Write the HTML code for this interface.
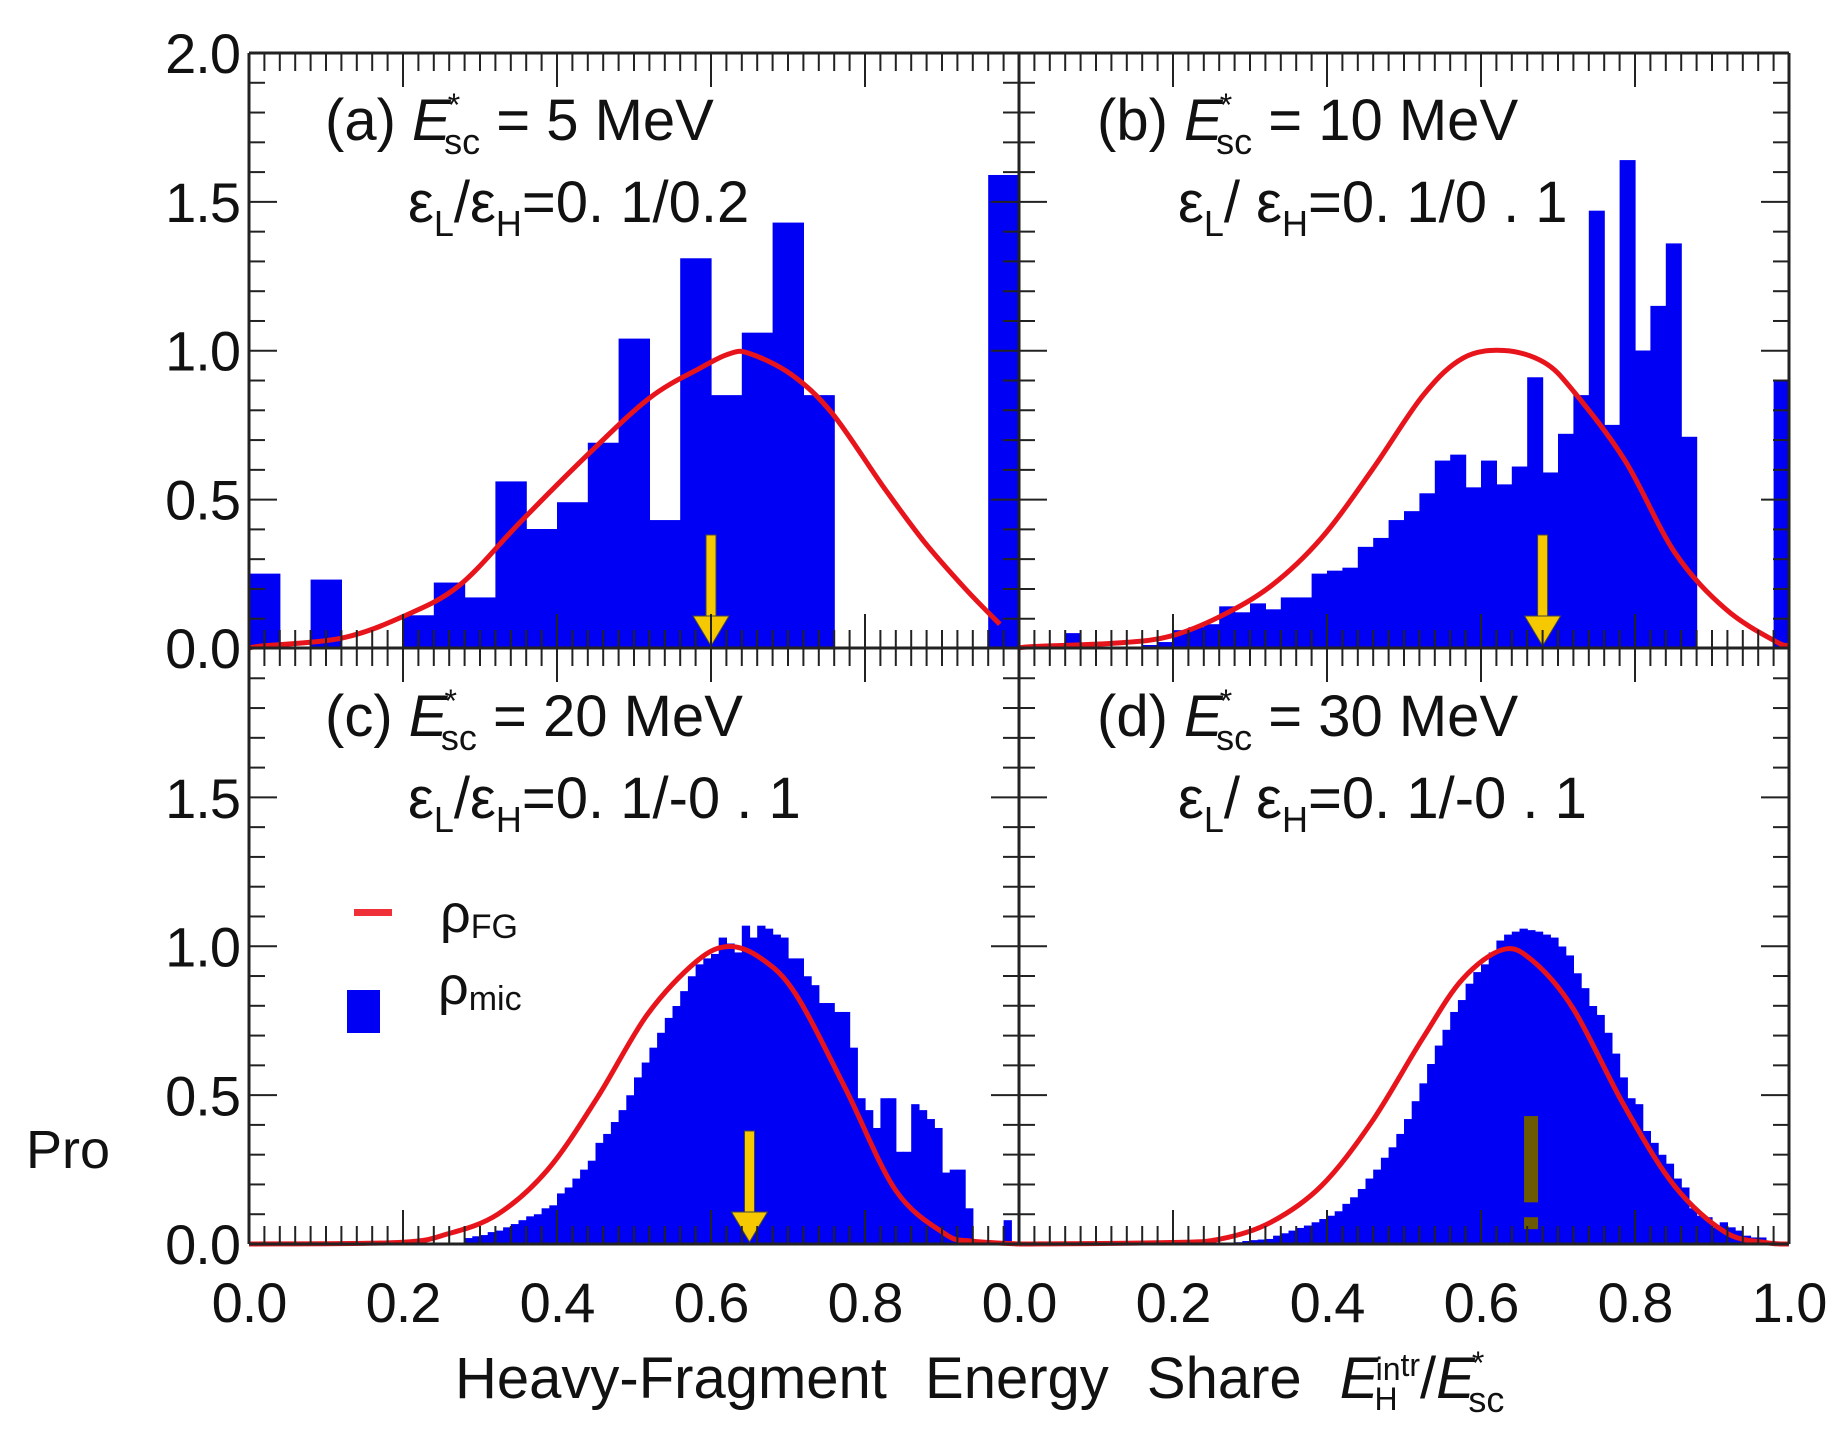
<!DOCTYPE html>
<html><head><meta charset="utf-8"><style>
body{margin:0;background:#fff;}
svg{display:block;font-family:"Liberation Sans",sans-serif;}
</style></head><body>
<svg id="chart" width="1848" height="1430" viewBox="0 0 1848 1430" xmlns="http://www.w3.org/2000/svg" style="position:absolute;left:0;top:0">
<g id="bars"></g><g id="curves"></g><g id="axes"></g><g id="labels"></g>
</svg>
<script>
// ---- data ----
const binsA = [0.25,0,0.23,0,0,0.11,0.22,0.17,0.56,0.40,0.49,0.69,1.04,0.43,1.31,0.85,1.06,1.43,0.85,0,0,0,0,0,1.59];
const binsB = [0,0,0,0.05,0,0,0,0,0.01,0.02,0.06,0.07,0.08,0.14,0.12,0.15,0.13,0.17,0.17,0.25,0.26,0.27,0.34,0.37,0.43,0.46,0.52,0.63,0.65,0.54,0.63,0.55,0.61,0.91,0.59,0.72,0.85,1.47,0.75,1.64,1.0,1.15,1.36,0.71,0,0,0,0,0,0.90];
const binsC = [0,0,0,0,0,0,0,0,0,0,0,0,0,0,0,0,0,0,0,0,0,0,0,0,0,0,0,0,
 0.02,0.026,0.03,0.04,0.045,0.056,0.067,0.08,0.093,0.10,0.12,0.13,
 0.17,0.19,0.22,0.25,0.28,0.34,0.37,0.41,0.45,0.50,0.56,0.61,0.66,0.71,0.76,0.80,0.85,0.90,0.94,0.96,
 0.975,1.03,1.01,0.98,1.07,1.03,1.07,1.06,1.04,1.03,0.96,0.96,0.90,0.87,0.81,0.81,0.78,0.78,0.66,0.49,
 0.45,0.39,0.49,0.49,0.31,0.31,0.47,0.45,0.42,0.39,0.24,0.25,0.25,0.12,0,0,0,0,0.08,0];
const binsD = [0,0,0,0,0,0,0,0,0,0,0,0,0,0,0,0,0,0,0,0,0,0,0,0,0,0,0,0,
 0.006,0.01,0.013,0.015,0.017,0.028,0.036,0.045,0.054,0.062,0.073,0.084,
 0.095,0.11,0.135,0.157,0.185,0.22,0.25,0.29,0.325,0.37,0.42,0.48,0.54,0.605,0.667,0.72,0.78,0.82,0.875,0.914,
 0.94,0.98,1.02,1.04,1.05,1.06,1.055,1.05,1.04,1.03,1.00,0.97,0.91,0.86,0.80,0.77,0.71,0.64,0.56,0.49,
 0.47,0.38,0.34,0.30,0.27,0.22,0.19,0.12,0.095,0.09,0.056,0.073,0.056,0.045,0.028,0.022,0.022,0.006,0,0];
const curveAx = [0,0.018,0.12,0.2,0.273,0.353,0.44,0.52,0.585,0.625,0.65,0.704,0.757,0.823,0.876,0.93,0.975];
const curveAy = [0,0.007,0.033,0.106,0.21,0.425,0.65,0.84,0.94,0.99,0.99,0.92,0.79,0.545,0.36,0.2,0.08];
const curveBx = [0,0.02,0.13,0.197,0.262,0.328,0.393,0.459,0.525,0.577,0.63,0.682,0.721,0.787,0.852,0.918,0.984,1.0];
const curveBy = [0,0.005,0.017,0.04,0.107,0.21,0.37,0.60,0.85,0.975,1.0,0.96,0.86,0.63,0.32,0.13,0.02,0.01];
const curveCx = [0,0.194,0.258,0.323,0.388,0.452,0.517,0.581,0.623,0.665,0.71,0.775,0.84,0.904,0.937,1.0];
const curveCy = [0,0.005,0.034,0.10,0.25,0.49,0.77,0.95,1.0,0.96,0.84,0.52,0.18,0.034,0.01,0];
const curveDx = [0,0.196,0.262,0.327,0.393,0.458,0.524,0.576,0.629,0.668,0.72,0.786,0.851,0.917,0.969,1.0];
const curveDy = [0,0.005,0.017,0.073,0.196,0.41,0.69,0.89,0.99,0.95,0.79,0.465,0.196,0.04,0.005,0];
const arrowX = [0.60,0.68,0.65,0.665];
const yTicks = [0,0.5,1.0,1.5,2.0];
const xTicks = [0,0.2,0.4,0.6,0.8,1.0];

// ---- layout ----
const NS="http://www.w3.org/2000/svg";
const L=249,M=1019,R=1789,T=53,MID=648,B=1244,W=770,U=297.5;
const panels=[
 {x0:L,y0:MID,bins:binsA,cx:curveAx,cy:curveAy,name:'a'},
 {x0:M,y0:MID,bins:binsB,cx:curveBx,cy:curveBy,name:'b'},
 {x0:L,y0:B,bins:binsC,cx:curveCx,cy:curveCy,name:'c'},
 {x0:M,y0:B,bins:binsD,cx:curveDx,cy:curveDy,name:'d'}];
function sx(p,v){return p.x0+v*W;}
function sy(p,v){return p.y0-v*U;}
function mk(tag,attrs,parent){const e=document.createElementNS(NS,tag);for(const k in attrs)e.setAttribute(k,attrs[k]);parent.appendChild(e);return e;}
const gB=document.getElementById('bars'),gC=document.getElementById('curves'),gA=document.getElementById('axes'),gL=document.getElementById('labels');

function smoothPath(pts){
 let d='M'+pts[0][0].toFixed(1)+','+pts[0][1].toFixed(1);
 for(let i=0;i<pts.length-1;i++){
  const p0=pts[Math.max(0,i-1)],p1=pts[i],p2=pts[i+1],p3=pts[Math.min(pts.length-1,i+2)];
  const c1=[p1[0]+(p2[0]-p0[0])/6,p1[1]+(p2[1]-p0[1])/6];
  const c2=[p2[0]-(p3[0]-p1[0])/6,p2[1]-(p3[1]-p1[1])/6];
  d+='C'+c1[0].toFixed(1)+','+c1[1].toFixed(1)+' '+c2[0].toFixed(1)+','+c2[1].toFixed(1)+' '+p2[0].toFixed(1)+','+p2[1].toFixed(1);
 }
 return d;
}

panels.forEach((p,pi)=>{
 const n=p.bins.length,bw=1/n;
 p.bins.forEach((v,i)=>{
  if(v<=0)return;
  const r=mk('rect',{x:sx(p,i*bw),y:sy(p,v),width:bw*W+0.6,height:v*U,fill:'#0000f5'},gB);
  
  
 });
 const pts=p.cx.map((x,i)=>[sx(p,x),sy(p,p.cy[i])]);
 const c=mk('path',{d:smoothPath(pts),fill:'none',stroke:'#e8141c','stroke-width':5,'stroke-linejoin':'round'},gC);
 
 
 const ax=sx(p,arrowX[pi]);
 if(pi<3){
  const a=mk('g',{},gC);
  
  
  mk('rect',{x:ax-5,y:sy(p,0.38),width:10,height:0.38*U-28,fill:'#f5c800',stroke:'#444','stroke-width':1},a);
  mk('polygon',{points:(ax-18)+','+(p.y0-32)+' '+(ax+18)+','+(p.y0-32)+' '+ax+','+(p.y0-2),fill:'#f5c800',stroke:'#444','stroke-width':1},a);
 } else {
  const a=mk('g',{},gC);
  
  
  mk('rect',{x:ax-7,y:sy(p,0.43),width:14,height:0.29*U,fill:'#6b5a00'},a);
  mk('rect',{x:ax-7,y:sy(p,0.09),width:14,height:0.04*U,fill:'#6b5a00'},a);
 }
});

function line(x1,y1,x2,y2,w){mk('line',{x1:x1,y1:y1,x2:x2,y2:y2,stroke:'#222','stroke-width':w},gA);}
[[L,T,R,T],[L,MID,R,MID],[L,B,R,B],[L,T,L,B],[M,T,M,B],[R,T,R,B]].forEach(s=>line(s[0],s[1],s[2],s[3],3));
for(let k=0;k<=50;k++){
 const len=(k%10===0)?34:18;
 [L,M].forEach(x0=>{
  const x=x0+k*W/50;
  line(x,T,x,T+len,2); line(x,MID-len,x,MID+len,2); line(x,B-len,x,B,2);
 });
}
for(let k=0;k<=40;k++){
 const len=(k%5===0)?28:16;
 const y=T+k*(B-T)/40;
 line(L,y,L+len,y,2); line(M-len,y,M+len,y,2); line(R-len,y,R,y,2);
}
function txt(s,x,y,size,anchor,name){const t=mk('text',{x:x,y:y,'font-size':size,'text-anchor':anchor||'middle',fill:'#111','letter-spacing':'-1'},gL);t.textContent=s;return t;}
yTicks.forEach(v=>{txt(v.toFixed(1),240,MID-v*U+20,56,'end','y-tick-label');});
yTicks.slice(0,4).forEach(v=>{txt(v.toFixed(1),240,B-v*U+20,56,'end','y-tick-label');});
xTicks.slice(0,5).forEach(v=>{txt(v.toFixed(1),L+v*W,1322,56,'middle','x-tick-label');});
xTicks.forEach(v=>{txt(v.toFixed(1),M+v*W,1322,56,'middle','x-tick-label');});
</script>
<svg width="1848" height="1430" style="position:absolute;left:0;top:0" font-family="Liberation Sans, sans-serif" fill="#111">
 <g>
  <text x="325" y="140" font-size="58">(a) <tspan font-style="italic">E</tspan><tspan font-size="32" dx="-3" dy="-24">*</tspan><tspan font-size="36" dx="-16" dy="38">sc</tspan><tspan dy="-14"> = 5  MeV</tspan></text>
  <text x="408" y="222" font-size="58">ε<tspan font-size="36" dy="14">L</tspan><tspan dy="-14">/ε</tspan><tspan font-size="36" dy="14">H</tspan><tspan dy="-14">=0. 1/0.2</tspan></text>
 </g>
 <g>
  <text x="1097" y="140" font-size="58">(b) <tspan font-style="italic">E</tspan><tspan font-size="32" dx="-3" dy="-24">*</tspan><tspan font-size="36" dx="-16" dy="38">sc</tspan><tspan dy="-14"> =  10  MeV</tspan></text>
  <text x="1178" y="222" font-size="58">ε<tspan font-size="36" dy="14">L</tspan><tspan dy="-14">/ ε</tspan><tspan font-size="36" dy="14">H</tspan><tspan dy="-14">=0. 1/0 . 1</tspan></text>
 </g>
 <g>
  <text x="325" y="736" font-size="58">(c) <tspan font-style="italic">E</tspan><tspan font-size="32" dx="-3" dy="-24">*</tspan><tspan font-size="36" dx="-16" dy="38">sc</tspan><tspan dy="-14"> = 20  MeV</tspan></text>
  <text x="408" y="818" font-size="58">ε<tspan font-size="36" dy="14">L</tspan><tspan dy="-14">/ε</tspan><tspan font-size="36" dy="14">H</tspan><tspan dy="-14">=0. 1/-0 . 1</tspan></text>
 </g>
 <g>
  <text x="1097" y="736" font-size="58">(d) <tspan font-style="italic">E</tspan><tspan font-size="32" dx="-3" dy="-24">*</tspan><tspan font-size="36" dx="-16" dy="38">sc</tspan><tspan dy="-14"> = 30  MeV</tspan></text>
  <text x="1178" y="818" font-size="58">ε<tspan font-size="36" dy="14">L</tspan><tspan dy="-14">/ ε</tspan><tspan font-size="36" dy="14">H</tspan><tspan dy="-14">=0. 1/-0 . 1</tspan></text>
 </g>
 <g>
  <rect x="354" y="909" width="38" height="7" fill="#f03038"/>
  <text x="440" y="932" font-size="54">ρ<tspan font-size="34" dy="6">FG</tspan></text>
  <rect x="347" y="990" width="33" height="43" fill="#0000f5"/>
  <text x="438" y="1004" font-size="54">ρ<tspan font-size="34" dy="6">mic</tspan></text>
 </g>
 <text x="26" y="1168" font-size="54">Pro</text>
 <text x="455" y="1398" font-size="58" word-spacing="22">Heavy-Fragment  Energy  Share  <tspan font-style="italic">E</tspan><tspan font-size="32" dx="-4" dy="12">H</tspan><tspan font-size="32" dx="-22" dy="-30">in</tspan><tspan font-size="32" dy="-4">tr</tspan><tspan dy="22">/</tspan><tspan font-style="italic">E</tspan><tspan font-size="32" dx="-3" dy="-24">*</tspan><tspan font-size="36" dx="-16" dy="38">sc</tspan></text>
</svg>
</body></html>
